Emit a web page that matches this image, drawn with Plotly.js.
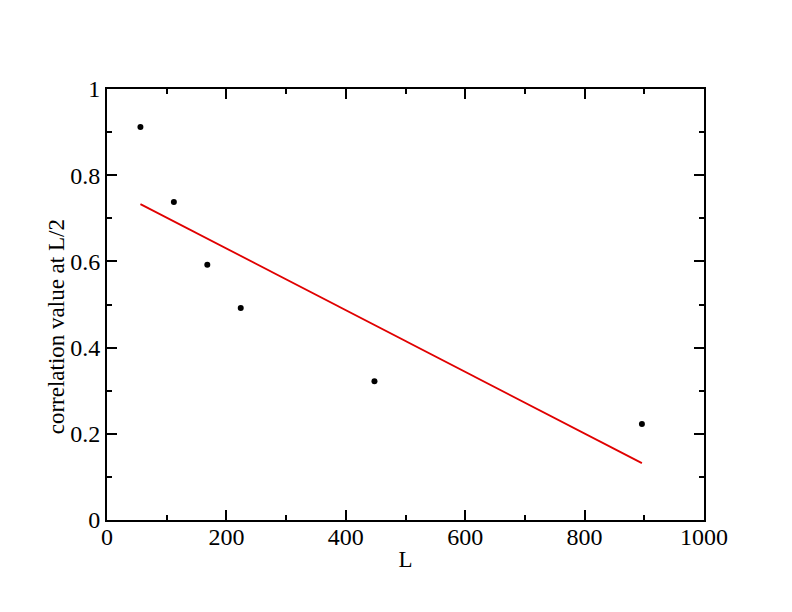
<!DOCTYPE html>
<html><head><meta charset="utf-8">
<script src="https://cdn.plot.ly/plotly-3.0.1.min.js"></script>
<style>body{margin:0;background:#fff}</style>
</head><body>
<div id="chart" style="width:792px;height:612px"></div>
<script>
var L = [56, 112, 168, 224, 448, 896];
var corr = [0.912, 0.738, 0.592, 0.492, 0.322, 0.223];
var fitX = [56, 896];
var fitY = [0.733, 0.132];
var xTitle = 'L';
var yTitle = 'correlation value at L/2';

var fam = '"Liberation Serif", "Times New Roman", serif';
var tickFont = {family: fam, color: '#000', size: 24};
var titleFont = {family: fam, color: '#000', size: 23};
var axisCommon = {
  showgrid: false, zeroline: false, showline: true, linecolor: '#000', linewidth: 2,
  mirror: 'ticks', ticks: 'inside', ticklen: 10, tickwidth: 2, tickcolor: '#000',
  tickfont: tickFont, ticklabelstandoff: 0,
  minor: {ticks: 'inside', ticklen: 5, tickwidth: 2, tickcolor: '#000', showgrid: false}
};
var data = [
  {x: fitX, y: fitY, mode: 'lines', line: {color: '#e00000', width: 1.8}, hoverinfo: 'none'},
  {x: L, y: corr, mode: 'markers', marker: {color: '#000', size: 6, symbol: 'circle'}}
];
var layout = {
  width: 792, height: 612, showlegend: false,
  paper_bgcolor: '#fff', plot_bgcolor: '#fff',
  margin: {l: 107, r: 88, t: 89, b: 92},
  font: tickFont,
  xaxis: Object.assign({}, axisCommon, {range: [0, 1000], tickvals: [0, 200, 400, 600, 800, 1000],
    ticktext: ['0', '200', '400', '600', '800', '1000'], ticklabelstandoff: -6,
    minor: Object.assign({}, axisCommon.minor, {dtick: 100}),
    title: {text: xTitle, font: titleFont, standoff: 2}}),
  yaxis: Object.assign({}, axisCommon, {range: [0, 1], tickvals: [0, 0.2, 0.4, 0.6, 0.8, 1],
    ticktext: ['0', '0.2', '0.4', '0.6', '0.8', '1'],
    minor: Object.assign({}, axisCommon.minor, {dtick: 0.1})}),
  annotations: [{
    text: yTitle, textangle: -90, font: titleFont, showarrow: false,
    xref: 'paper', yref: 'paper', x: -0.084, y: 0.449, xanchor: 'center', yanchor: 'middle'
  }]
};
Plotly.newPlot('chart', data, layout, {displayModeBar: false, staticPlot: true});
</script>
</body></html>
